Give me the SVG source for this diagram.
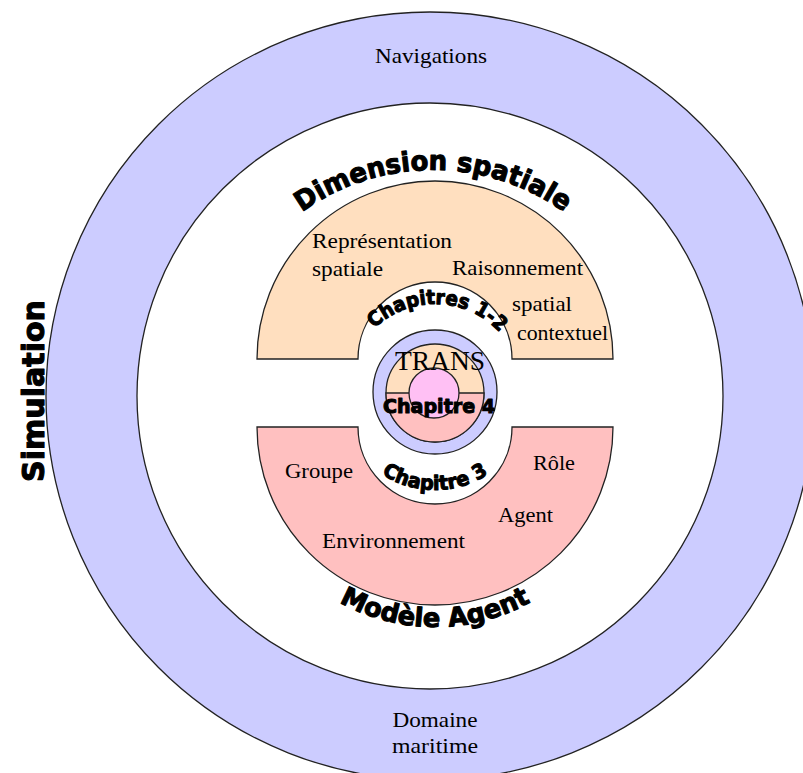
<svg xmlns="http://www.w3.org/2000/svg" width="803" height="773" viewBox="0 0 803 773">
  <style>
    .shape { stroke: #222; stroke-width: 1.3; }
    .lav { fill: #ccccff; }
    .peach { fill: #ffdfbf; }
    .pink { fill: #ffc0c0; }
    .mag { fill: #ffc0f4; }
    .white { fill: #ffffff; }
    .serif { font-family: "Liberation Serif", "Times New Roman", serif; font-size: 21px; fill: #000; }
    .heavy { font-family: "DejaVu Sans", "Liberation Sans", sans-serif; font-weight: bold; fill: #000; stroke: #000; stroke-width: 1.1; stroke-linejoin: round; }
  </style>
  <defs>
    <path id="arcDim" d="M 208,395 A 225 225 0 0 1 658,395"/>
    <path id="arcMod" d="M 238,430 A 197 197 0 0 0 632,430"/>
    <path id="arcCh12" d="M 347,392 A 88 88 0 0 1 523,392"/>
    <path id="arcCh3" d="M 337,392 A 98 98 0 0 0 533,392"/>
  </defs>
  <rect x="0" y="0" width="803" height="773" fill="#ffffff"/>

  <g id="simulation-ring">
    <circle class="shape lav" cx="430" cy="396" r="384"/>
    <circle class="shape white" cx="430" cy="396" r="293"/>
    <text class="serif" x="431" y="63" text-anchor="middle" textLength="112" lengthAdjust="spacingAndGlyphs">Navigations</text>
    <text class="serif" x="435" y="727" text-anchor="middle" textLength="85" lengthAdjust="spacingAndGlyphs">Domaine</text>
    <text class="serif" x="435" y="753" text-anchor="middle" textLength="86" lengthAdjust="spacingAndGlyphs">maritime</text>
    <text class="heavy" font-size="31" transform="translate(44,391) rotate(-90)" text-anchor="middle" textLength="182" lengthAdjust="spacingAndGlyphs">Simulation</text>
  </g>

  <g id="dimension-spatiale">
    <path class="shape peach" d="M 257,359 A 178 178 0 0 1 613,359 L 512,359 A 77 77 0 0 0 358,359 Z"/>
    <text class="heavy" font-size="27"><textPath href="#arcDim" startOffset="50%" text-anchor="middle" textLength="280" lengthAdjust="spacingAndGlyphs">Dimension spatiale</textPath></text>
    <text class="serif" x="312" y="248" textLength="140" lengthAdjust="spacingAndGlyphs">Représentation</text>
    <text class="serif" x="312" y="276" textLength="71" lengthAdjust="spacingAndGlyphs">spatiale</text>
    <text class="serif" x="452" y="275" textLength="131" lengthAdjust="spacingAndGlyphs">Raisonnement</text>
    <text class="serif" x="512" y="311" textLength="60" lengthAdjust="spacingAndGlyphs">spatial</text>
    <text class="serif" x="517" y="340" textLength="91" lengthAdjust="spacingAndGlyphs">contextuel</text>
    <text class="heavy" font-size="20"><textPath href="#arcCh12" startOffset="51%" text-anchor="middle" textLength="140" lengthAdjust="spacingAndGlyphs">Chapitres 1-2</textPath></text>
  </g>

  <g id="modele-agent">
    <path class="shape pink" d="M 257,427 A 178 178 0 0 0 613,427 L 512,427 A 77 77 0 0 1 358,427 Z"/>
    <text class="heavy" font-size="26"><textPath href="#arcMod" startOffset="50%" text-anchor="middle" textLength="200" lengthAdjust="spacingAndGlyphs">Modèle Agent</textPath></text>
    <text class="serif" x="285" y="478" textLength="68" lengthAdjust="spacingAndGlyphs">Groupe</text>
    <text class="serif" x="533" y="470" textLength="42" lengthAdjust="spacingAndGlyphs">Rôle</text>
    <text class="serif" x="498" y="522" textLength="55" lengthAdjust="spacingAndGlyphs">Agent</text>
    <text class="serif" x="322" y="548" textLength="143" lengthAdjust="spacingAndGlyphs">Environnement</text>
    <text class="heavy" font-size="20"><textPath href="#arcCh3" startOffset="50%" text-anchor="middle" textLength="113" lengthAdjust="spacingAndGlyphs">Chapitre 3</textPath></text>
  </g>

  <g id="trans-core">
    <circle class="shape lav" cx="435" cy="392" r="62"/>
    <circle class="shape peach" cx="435" cy="393" r="49"/>
    <path class="shape pink" d="M 386,393 A 49 49 0 0 0 484,393 Z"/>
    <circle class="shape mag" cx="434" cy="393" r="25"/>
    <text class="serif" x="440" y="370" style="font-size:28px" text-anchor="middle" textLength="90" lengthAdjust="spacingAndGlyphs">TRANS</text>
    <text class="heavy" font-size="20" x="439" y="413" text-anchor="middle" textLength="112" lengthAdjust="spacingAndGlyphs">Chapitre 4</text>
  </g>
</svg>
